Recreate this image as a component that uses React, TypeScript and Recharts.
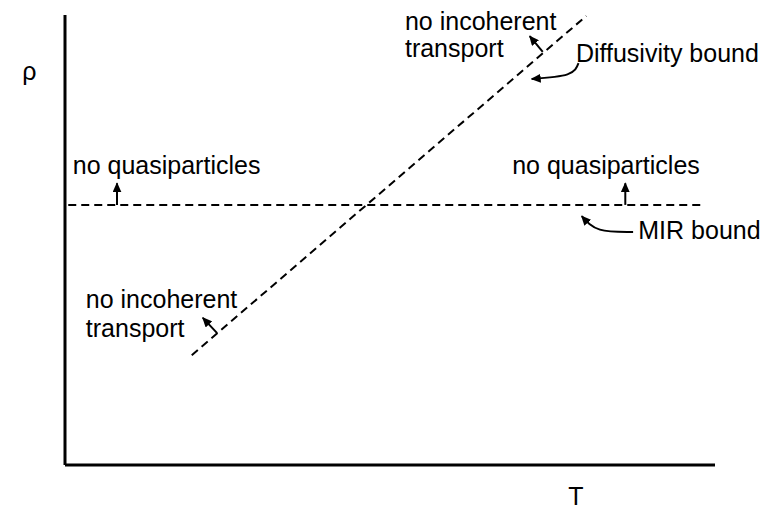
import { LineChart, Line, XAxis, YAxis, ReferenceDot } from "recharts";

// schematic rho(T) diagram, axes in arbitrary units 0..100
const diffusivityBound = [
  { x: 19.5, y: 24.4 },
  { x: 80.2, y: 99.8 },
];
const mirBound = [
  { x: 0.5, y: 57.8 },
  { x: 98, y: 57.8 },
];

// small arrows: tail -> head
const arrowLeftQp = [
  { x: 8, y: 57.8 },
  { x: 8, y: 62.6 },
];
const arrowRightQp = [
  { x: 86.2, y: 57.8 },
  { x: 86.2, y: 62.6 },
];
const arrowTopIncoh = [
  { x: 73.5, y: 91.8 },
  { x: 71.5, y: 95.3 },
];
const arrowBottomIncoh = [
  { x: 23.4, y: 29.3 },
  { x: 21.2, y: 32.7 },
];
// curved pointers from the bound labels
const pointerDiffusivity = [
  { x: 79.0, y: 89.3 },
  { x: 77.3, y: 86.8 },
  { x: 71.8, y: 85.8 },
];
const pointerMir = [
  { x: 87.4, y: 51.8 },
  { x: 82.3, y: 52.3 },
  { x: 79.5, y: 55.3 },
];

const labels = [
  { x: 52.3, y: 96.7, text: "no incoherent", anchor: "start" },
  { x: 52.3, y: 90.7, text: "transport", anchor: "start" },
  { x: 78.6, y: 89.6, text: "Diffusivity bound", anchor: "start" },
  { x: 1.2, y: 64.7, text: "no quasiparticles", anchor: "start" },
  { x: 68.8, y: 64.7, text: "no quasiparticles", anchor: "start" },
  { x: 88.2, y: 50.2, text: "MIR bound", anchor: "start" },
  { x: 3.2, y: 34.9, text: "no incoherent", anchor: "start" },
  { x: 3.2, y: 28.4, text: "transport", anchor: "start" },
  { x: -5.5, y: 85.6, text: "ρ", anchor: "middle" },
  { x: 78.6, y: -8.9, text: "T", anchor: "middle" },
];

const font = '"Liberation Sans", Arial, sans-serif';

export default function App() {
  const dashed = { stroke: "#000", strokeWidth: 2, strokeDasharray: "8 5", dot: false, activeDot: false, isAnimationActive: false };
  const arrow = { stroke: "#000", strokeWidth: 2, dot: false, activeDot: false, isAnimationActive: false, markerEnd: "url(#head)" };

  return (
    <div style={{ position: "absolute", left: 0, top: 0, width: 764, height: 512, background: "#fff" }}>
      <LineChart width={764} height={512} margin={{ top: 15, right: 49, bottom: 46, left: 64 }}>
        <defs>
          <marker id="head" markerWidth={10} markerHeight={9} refX={9} refY={4.5} orient="auto" markerUnits="userSpaceOnUse">
            <path d="M0,0 L10,4.5 L0,9 z" fill="#000" />
          </marker>
        </defs>
        <XAxis
          type="number"
          dataKey="x"
          domain={[0, 100]}
          tick={false}
          tickLine={false}
          height={1}
          axisLine={{ stroke: "#000", strokeWidth: 3 }}
        />
        <YAxis
          type="number"
          dataKey="y"
          domain={[0, 100]}
          tick={false}
          tickLine={false}
          width={1}
          axisLine={{ stroke: "#000", strokeWidth: 3 }}
        />
        <Line data={diffusivityBound} dataKey="y" {...dashed} />
        <Line data={mirBound} dataKey="y" {...dashed} />
        <Line data={arrowLeftQp} dataKey="y" {...arrow} />
        <Line data={arrowRightQp} dataKey="y" {...arrow} />
        <Line data={arrowTopIncoh} dataKey="y" {...arrow} />
        <Line data={arrowBottomIncoh} dataKey="y" {...arrow} />
        <Line data={pointerDiffusivity} dataKey="y" type="natural" {...arrow} />
        <Line data={pointerMir} dataKey="y" type="natural" {...arrow} />
        {labels.map((l, i) => (
          <ReferenceDot
            key={i}
            x={l.x}
            y={l.y}
            ifOverflow="visible"
            shape={(p: any) => (
              <text x={p.cx} y={p.cy} textAnchor={l.anchor as any} fontSize={25} fontFamily={font} fill="#000">
                {l.text}
              </text>
            )}
          />
        ))}
      </LineChart>
    </div>
  );
}
